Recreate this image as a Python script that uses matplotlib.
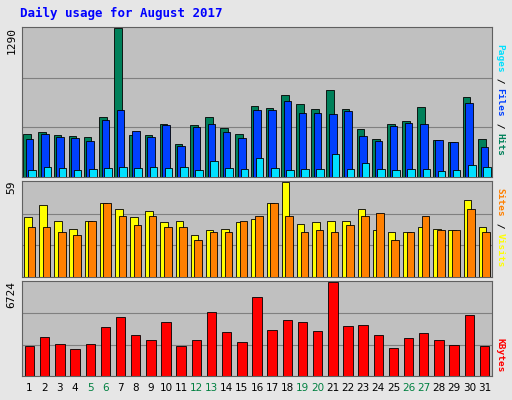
import matplotlib.pyplot as plt
import numpy as np

days = list(range(1, 32))
weekend = [5, 6, 12, 13, 19, 20, 26, 27]

hits = [375, 392, 366, 357, 349, 523, 1290, 366, 366, 462, 288, 453, 523, 427, 375, 619, 602, 715, 636, 593, 758, 593, 418, 331, 462, 488, 610, 323, 305, 697, 331]
files = [331, 375, 349, 340, 314, 497, 584, 401, 349, 453, 271, 436, 462, 392, 340, 584, 584, 662, 558, 558, 549, 575, 357, 314, 445, 471, 462, 323, 305, 645, 262]
pages = [61, 87, 78, 61, 70, 78, 87, 78, 87, 78, 87, 61, 139, 78, 70, 166, 78, 61, 70, 70, 200, 70, 122, 70, 61, 70, 70, 52, 61, 105, 87]
visits = [37, 45, 35, 30, 35, 46, 42, 37, 41, 34, 35, 26, 29, 30, 34, 36, 46, 59, 33, 34, 35, 35, 42, 29, 28, 28, 31, 30, 29, 48, 31]
sites = [31, 31, 28, 26, 35, 46, 38, 32, 38, 31, 31, 23, 28, 28, 35, 38, 46, 38, 28, 29, 28, 32, 38, 40, 23, 28, 38, 29, 29, 42, 28]
kbytes = [2142, 2807, 2290, 1921, 2290, 3473, 4210, 2955, 2585, 3841, 2142, 2585, 4580, 3176, 2438, 5614, 3324, 3989, 3841, 3250, 6724, 3546, 3620, 2955, 2000, 2733, 3102, 2585, 2216, 4358, 2142]

BG = '#c0c0c0'
fig = plt.figure(figsize=(5.12, 4.0), dpi=100, facecolor='#e6e6e6')
W, H = 512, 400


def panel(y0, y1):
    ax = fig.add_axes([22 / W, 1 - y1 / H, 470 / W, (y1 - y0) / H])
    ax.set_facecolor(BG)
    ax.set_xlim(0.5, 31.5)
    ax.set_xticks([])
    ax.set_yticks([])
    for s in ax.spines.values():
        s.set_color('#606060')
    return ax


def grid(ax, top):
    ax.set_ylim(0, top * 1.01)
    for f in (1 / 3, 2 / 3):
        ax.axhline(top * f, color='#808080', lw=0.8, zorder=0)
    ax.text(-0.012, 1.0, str(top), transform=ax.transAxes, rotation=90,
            ha='right', va='top', fontsize=8, family='DejaVu Sans Mono')


x = np.array(days)
fig.text(20 / W, 1 - 13 / H, 'Daily usage for August 2017', color='#0000ff',
         fontsize=9, fontweight='bold', family='DejaVu Sans Mono', va='center')

ax1 = panel(27, 177)
grid(ax1, 1290)
ax1.bar(x - 0.17, hits, width=0.5, color='#00805a', edgecolor='black', lw=0.6, zorder=2)
ax1.bar(x, files, width=0.5, color='#0040ff', edgecolor='black', lw=0.6, zorder=3)
ax1.bar(x + 0.17, pages, width=0.5, color='#00e0ff', edgecolor='black', lw=0.6, zorder=4)

ax2 = panel(181, 277)
grid(ax2, 59)
ax2.bar(x - 0.12, visits, width=0.5, color='#ffff00', edgecolor='black', lw=0.6, zorder=2)
ax2.bar(x + 0.12, sites, width=0.5, color='#ff8000', edgecolor='black', lw=0.6, zorder=3)

ax3 = panel(281, 376)
grid(ax3, 6724)
ax3.bar(x, kbytes, width=0.62, color='#ff0000', edgecolor='black', lw=0.6, zorder=2)

for d in days:
    fig.text((22 + (d - 0.5) * 470 / 31) / W, 1 - 388 / H, str(d), ha='center', va='center',
             fontsize=7.5, color='#008040' if d in weekend else 'black')


def side(y_center, parts):
    # stacked rotated label reading top to bottom
    total = sum(len(t) for t, _ in parts)
    step = 5.6
    y = y_center - total * step / 2
    for t, c in parts:
        n = len(t)
        fig.text(500 / W, 1 - (y + n * step / 2) / H, t, rotation=270, color=c,
                 ha='center', va='center', fontsize=6.8, fontweight='bold', family='DejaVu Sans Mono')
        y += n * step


side(100, [('Pages', '#00e0ff'), (' / ', 'black'), ('Files', '#0040ff'), (' / ', 'black'), ('Hits', '#00805a')])
side(228, [('Sites', '#ff8000'), (' / ', 'black'), ('Visits', '#ffff00')])
side(355, [('KBytes', '#ff0000')])

fig.savefig('out.png', dpi=100, facecolor=fig.get_facecolor())
